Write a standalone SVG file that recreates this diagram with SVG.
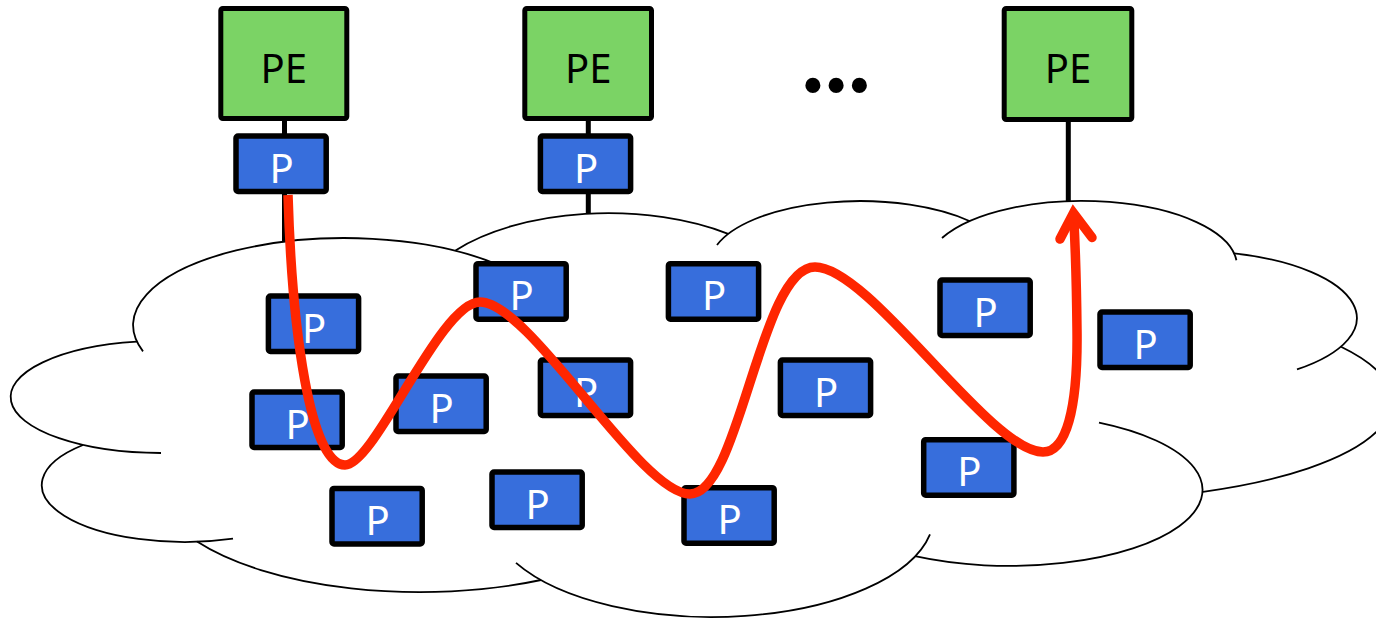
<svg xmlns="http://www.w3.org/2000/svg" width="1376" height="619" viewBox="0 0 1376 619">
  <style>
    .cloud { fill: none; stroke: #000; stroke-width: 1.8; }
    .pe rect { fill: #7BD365; stroke: #000; stroke-width: 5; }
    .pe text { font-family: "Noto Sans", "Open Sans", sans-serif; font-size: 40px; fill: #000; text-anchor: middle; }
    .p rect { fill: #376EDC; stroke: #000; stroke-width: 5.5; }
    .p text { font-family: "Noto Sans", "Open Sans", sans-serif; font-size: 40px; fill: #fff; text-anchor: middle; }
    .link { stroke: #000; stroke-width: 5; fill: none; }
    .path { stroke: #FF2600; stroke-width: 9.5; fill: none; stroke-linecap: butt; stroke-linejoin: round; }
    .head { stroke: #FF2600; stroke-width: 9.5; fill: none; stroke-linecap: round; stroke-linejoin: miter; }
    .dots { font-family: "Liberation Serif", "Times New Roman", serif; font-size: 93px; font-weight: bold; fill: #000; text-anchor: middle; }
  </style>

  <!-- provider core cloud: one elliptical arc per lobe -->
  <g id="cloud" class="cloud">
    <path d="M 143 351.4 A 212 87 0 0 1 497 264.4"/>
    <path d="M 455.5 250.4 A 195 98 0 0 1 728.2 233.9"/>
    <path d="M 717 245 A 150 63 0 0 1 970 221.2"/>
    <path d="M 942 238 A 155 65 0 0 1 1236.4 260.3"/>
    <path d="M 1234 253.4 A 167 67 0 0 1 1297 369.4"/>
    <path d="M 1341 346.8 A 314 99 0 0 1 1203 491.8"/>
    <path d="M 1099 422.6 A 193 76 0 1 1 915 556.2"/>
    <path d="M 930 534.3 A 222 102 0 0 1 516 562.9"/>
    <path d="M 541 580 A 265 110 0 0 1 197 541.5"/>
    <path d="M 233 538.7 A 143 57 0 0 1 83 445"/>
    <path d="M 161 453 A 150 56 0 0 1 137 341.7"/>
  </g>

  <g id="connectors">
    <line class="link" x1="284.5" y1="118" x2="284.5" y2="136"/>
    <line class="link" x1="284.5" y1="192" x2="284.5" y2="241.5"/>
    <line class="link" x1="588.3" y1="118" x2="588.3" y2="136"/>
    <line class="link" x1="588.3" y1="192" x2="588.3" y2="213.5"/>
    <line class="link" x1="1068.3" y1="118" x2="1068.3" y2="201"/>
  </g>

  <g id="pe1" class="pe"><rect x="220.8" y="8.5" width="126" height="110" rx="2"/><text x="283.7" y="83">PE</text></g>
  <g id="pe2" class="pe"><rect x="524.8" y="8.5" width="126.7" height="110" rx="2"/><text x="588.2" y="83">PE</text></g>
  <g id="pe3" class="pe"><rect x="1004.2" y="8.5" width="127.6" height="111" rx="2"/><text x="1068" y="83">PE</text></g>

  <text class="dots" x="836" y="92">...</text>

  <g id="p1" class="p"><rect x="236" y="136" width="90.2" height="55.5" rx="2"/><text x="281.7" y="182.7">P</text></g>
  <g id="p2" class="p"><rect x="540.4" y="136" width="90.2" height="55.5" rx="2"/><text x="586.1" y="182.7">P</text></g>
  <g id="p3" class="p"><rect x="268.4" y="296" width="90.2" height="55.5" rx="2"/><text x="314.1" y="342.7">P</text></g>
  <g id="p4" class="p"><rect x="252" y="392" width="90.2" height="55.5" rx="2"/><text x="297.7" y="438.7">P</text></g>
  <g id="p5" class="p"><rect x="396" y="376" width="90.2" height="55.5" rx="2"/><text x="441.7" y="422.7">P</text></g>
  <g id="p6" class="p"><rect x="332" y="488.4" width="90.2" height="55.5" rx="2"/><text x="377.7" y="535.1">P</text></g>
  <g id="p7" class="p"><rect x="476" y="263.7" width="90.2" height="55.5" rx="2"/><text x="521.7" y="310.4">P</text></g>
  <g id="p8" class="p"><rect x="668.4" y="263.7" width="90.2" height="55.5" rx="2"/><text x="714.1" y="310.4">P</text></g>
  <g id="p9" class="p"><rect x="540.4" y="360" width="90.2" height="55.5" rx="2"/><text x="586.1" y="406.7">P</text></g>
  <g id="p10" class="p"><rect x="492" y="472" width="90.2" height="55.5" rx="2"/><text x="537.7" y="518.7">P</text></g>
  <g id="p11" class="p"><rect x="684" y="487.7" width="90.2" height="55.5" rx="2"/><text x="729.7" y="534.4">P</text></g>
  <g id="p12" class="p"><rect x="780.4" y="360" width="90.2" height="55.5" rx="2"/><text x="826.1" y="406.7">P</text></g>
  <g id="p13" class="p"><rect x="940" y="280" width="90.2" height="55.5" rx="2"/><text x="985.7" y="326.7">P</text></g>
  <g id="p14" class="p"><rect x="1100" y="312" width="90.2" height="55.5" rx="2"/><text x="1145.7" y="358.7">P</text></g>
  <g id="p15" class="p"><rect x="923.7" y="439.7" width="90.2" height="55.5" rx="2"/><text x="969.4" y="486.4">P</text></g>

  <!-- label-switched path across the core, ending at the far PE -->
  <g id="lsp">
    <path class="path" d="M 288 195 C 292 330 310 465 345 465 C 375 465 440 302 480 302 C 530 302 640 494 690 494 C 740 494 760 267 815 267 C 870 267 990 452 1043 452 C 1066 452 1078 410 1077 330 C 1076.5 280 1075 240 1073.5 213"/>
    <path class="head" d="M 1060 239 L 1073.5 213 L 1092 237.5"/>
  </g>
</svg>
